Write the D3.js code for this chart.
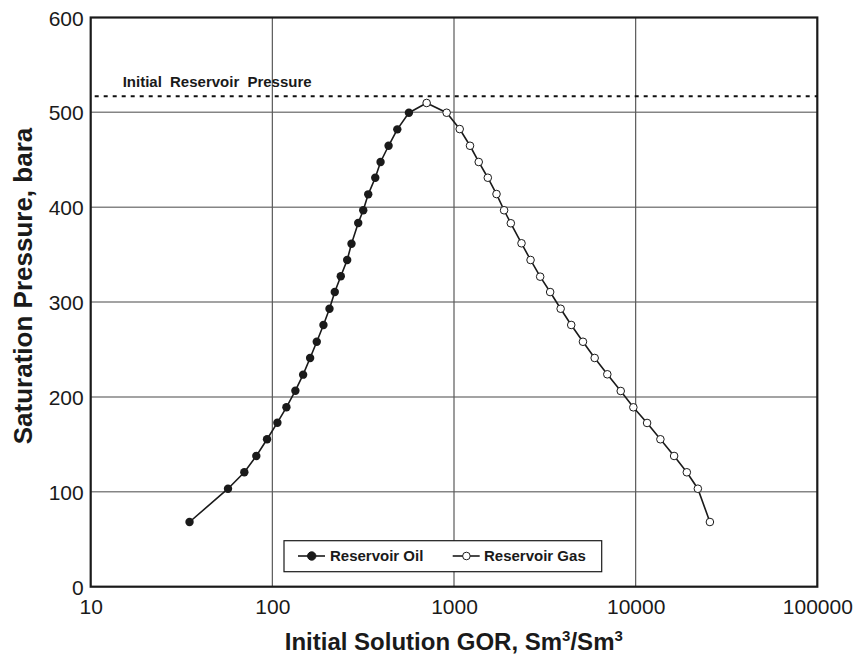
<!DOCTYPE html>
<html><head><meta charset="utf-8">
<script src="https://cdn.jsdelivr.net/npm/d3@7"></script>
<style>body{margin:0;background:#fff;} svg{display:block;font-family:"Liberation Sans",Arial,sans-serif;}</style>
</head><body>
<script>
const oilGOR = [35.0,57.0,70.1,81.6,93.5,106.6,119.5,133.9,147.7,161.4,175.6,191.1,206.3,220.6,238.1,258.2,272.7,297.0,316.5,337.2,368.6,394.2,436.4,487.4,564.7];
const oilPsat = [68.2,103.3,120.6,137.8,155.4,172.9,189.1,206.6,223.5,241.1,258.2,275.9,293.0,310.6,327.2,344.4,361.5,383.4,396.8,413.6,431.1,447.7,464.8,482.1,499.6];
const gasGOR = [707,911,1075,1225,1368,1535,1714,1887,2055,2353,2639,2981,3383,3864,4419,5128,5949,6982,8276,9712,11560,13685,16285,19130,22000,25630];
const gasPsat = [509.9,499.6,482.4,464.8,447.7,431.1,413.9,396.8,383.1,362.0,344.4,326.8,310.6,293.0,275.9,258.2,241.1,223.9,206.3,189.1,172.6,155.4,137.8,120.6,103.3,68.2];
const xTicks = [10,100,1000,10000,100000];
const yTicks = [0,100,200,300,400,500,600];
const initialPressure = 517;
const seriesNames = ["Reservoir Oil","Reservoir Gas"];

const W=854,H=657;
const m={l:90.7,r:817.3,t:17.5,b:586.7};
const svg=d3.select("body").append("svg").attr("width",W).attr("height",H);
const x=d3.scaleLog().domain([10,100000]).range([m.l,m.r]);
const y=d3.scaleLinear().domain([0,600]).range([m.b,m.t]);

// grid
svg.append("g").selectAll("line").data(yTicks.filter(d=>d>0&&d<600)).join("line")
  .attr("x1",m.l).attr("x2",m.r).attr("y1",d=>y(d)).attr("y2",d=>y(d))
  .attr("stroke","#858585").attr("stroke-width",1.5);
svg.append("g").selectAll("line").data(xTicks.filter(d=>d>10&&d<100000)).join("line")
  .attr("y1",m.t).attr("y2",m.b).attr("x1",d=>x(d)).attr("x2",d=>x(d))
  .attr("stroke","#5a5a5a").attr("stroke-width",1.2);

// axes
const xAxis=svg.append("g").attr("transform",`translate(0,${m.b})`)
  .call(d3.axisBottom(x).tickValues(xTicks).tickFormat(d3.format("d")).tickSize(0).tickPadding(12));
const yAxis=svg.append("g").attr("transform",`translate(${m.l},0)`)
  .call(d3.axisLeft(y).tickValues(yTicks).tickSize(0).tickPadding(7));
[xAxis,yAxis].forEach(a=>{a.select(".domain").remove();a.selectAll("text").attr("font-size",21).attr("fill","#1a1a1a").attr("font-family","Liberation Sans, Arial, sans-serif");});
yAxis.selectAll("text").attr("dy","0.36em");

// frame
svg.append("rect").attr("x",m.l).attr("y",m.t).attr("width",m.r-m.l).attr("height",m.b-m.t)
  .attr("fill","none").attr("stroke","#1a1a1a").attr("stroke-width",2.2);

// initial pressure dashed
svg.append("line").attr("x1",m.l+4).attr("x2",m.r).attr("y1",y(initialPressure)).attr("y2",y(initialPressure))
  .attr("stroke","#111").attr("stroke-width",2).attr("stroke-dasharray","4,5");
svg.append("text").attr("x",122.7).attr("y",86.7).attr("font-size",15).attr("font-weight","bold")
  .attr("fill","#1a1a1a").attr("word-spacing","4px").text("Initial Reservoir Pressure");

const line=d3.line().x(d=>x(d[0])).y(d=>y(d[1]));
const oil=oilGOR.map((g,i)=>[g,oilPsat[i]]);
const gas=gasGOR.map((g,i)=>[g,gasPsat[i]]);
svg.append("path").datum([oil[oil.length-1],gas[0]]).attr("d",line).attr("fill","none").attr("stroke","#1a1a1a").attr("stroke-width",1.6);
svg.append("path").datum(oil).attr("d",line).attr("fill","none").attr("stroke","#1a1a1a").attr("stroke-width",1.6);
svg.append("path").datum(gas).attr("d",line).attr("fill","none").attr("stroke","#1a1a1a").attr("stroke-width",1.6);
svg.append("g").selectAll("circle").data(oil).join("circle")
  .attr("cx",d=>x(d[0])).attr("cy",d=>y(d[1])).attr("r",4.2).attr("fill","#1a1a1a");
svg.append("g").selectAll("circle").data(gas).join("circle")
  .attr("cx",d=>x(d[0])).attr("cy",d=>y(d[1])).attr("r",3.8).attr("fill","#fff").attr("stroke","#1a1a1a").attr("stroke-width",1);

// legend
const lg=svg.append("g");
lg.append("rect").attr("x",284).attr("y",540.7).attr("width",317.7).attr("height",31).attr("fill","#fff").attr("stroke","#1a1a1a").attr("stroke-width",1.2);
const ly=556;
const items=[{x0:298,tx:330,name:seriesNames[0],filled:true},{x0:452.7,tx:484,name:seriesNames[1],filled:false}];
items.forEach(it=>{
  lg.append("line").attr("x1",it.x0).attr("x2",it.x0+27).attr("y1",ly).attr("y2",ly).attr("stroke","#1a1a1a").attr("stroke-width",1.6);
  lg.append("circle").attr("cx",it.x0+13.7).attr("cy",ly).attr("r",it.filled?4.2:3.8)
    .attr("fill",it.filled?"#1a1a1a":"#fff").attr("stroke","#1a1a1a").attr("stroke-width",1);
  lg.append("text").attr("x",it.tx).attr("y",ly).attr("dy","0.36em").attr("font-size",15).attr("font-weight","bold").attr("fill","#1a1a1a").text(it.name);
});

// axis titles
const xt=svg.append("text").attr("x",(284.3+623.3)/2).attr("y",650).attr("text-anchor","middle")
  .attr("font-size",24).attr("font-weight","bold").attr("fill","#1a1a1a");
xt.append("tspan").text("Initial Solution GOR, Sm");
xt.append("tspan").attr("font-size",15).attr("dy",-9).text("3");
xt.append("tspan").attr("dy",9).text("/Sm");
xt.append("tspan").attr("font-size",15).attr("dy",-9).text("3");
svg.append("text").attr("transform",`translate(32,${(122+450)/2}) rotate(-90)`).attr("text-anchor","middle")
  .attr("font-size",26).attr("font-weight","bold").attr("fill","#1a1a1a").text("Saturation Pressure, bara");
</script>
</body></html>
